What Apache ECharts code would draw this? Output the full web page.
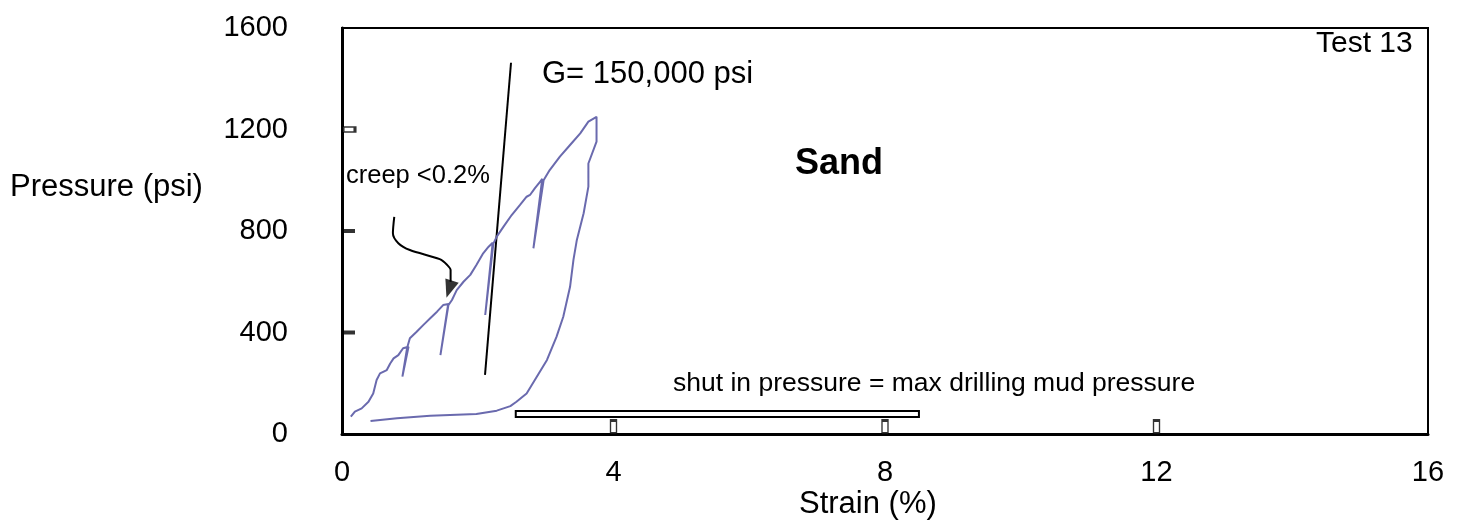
<!DOCTYPE html>
<html>
<head>
<meta charset="utf-8">
<script src="https://cdn.jsdelivr.net/npm/echarts@6/dist/echarts.min.js"></script>
<style>html,body{margin:0;padding:0;background:#fff;}#c{width:1464px;height:529px;}</style>
</head>
<body>
<div id="c"></div>
<script>
// Strain (%) vs Pressure (psi), Test 13 (Sand)
const strainLoop = [0.13,0.19,0.29,0.39,0.46,0.51,0.56,0.66,0.71,0.76,0.83,0.90,0.98,0.89,0.96,1.00,1.10,1.20,1.30,1.40,1.49,1.57,1.45,1.56,1.62,1.69,1.79,1.89,1.98,2.08,2.16,2.22,2.11,2.23,2.28,2.38,2.50,2.62,2.72,2.77,2.84,2.92,2.95,2.82,2.97,3.06,3.21,3.36,3.51,3.63,3.75,3.75,3.63,3.63,3.56,3.46,3.41,3.36,3.26,3.16,3.02,2.87,2.72,2.57,2.48,2.28,1.98,1.30,0.81,0.42];
const pressureLoop = [68,88,101,127,160,213,239,252,278,298,311,338,344,226,340,377,403,430,456,482,508,512,311,505,528,567,600,627,666,712,738,754,469,750,778,817,863,902,935,942,968,995,1005,732,1000,1040,1093,1139,1185,1231,1250,1152,1066,975,870,765,686,580,462,383,292,226,160,127,110,92,79,72,62,51];
const modulusStrain = [2.107, 2.49];
const modulusPressure = [233, 1463];
const arrowStrain = [0.77,0.75,0.83,1.00,1.44,1.55,1.60,1.60];
const arrowPressure = [856,791,752,725,689,666,646,600];
const arrowHead = [1.58, 571];
const shutInBar = {strain: [2.56, 8.50], pressure: [67, 91]};
const xTickLabels = [0,4,8,12,16];
const yTickLabels = [0,400,800,1200,1600];
const xTickMarks = [4,8,12];
const ySolidTicks = [400,800];
const yHollowTicks = [1200];

const FONT = 'Liberation Sans, Arial, sans-serif';
const zip = (a,b) => a.map((v,i)=>[v,b[i]]);

const chart = echarts.init(document.getElementById('c'), null, {renderer:'canvas'});
chart.setOption({
  animation:false,
  backgroundColor:'#fff',
  grid:{left:342, top:28, right:36, bottom:95, show:true, borderColor:'#000', borderWidth:2, backgroundColor:'transparent'},
  xAxis:{
    type:'value', min:0, max:16, interval:4,
    axisLine:{show:true, onZero:false, lineStyle:{color:'#000', width:3}},
    axisTick:{show:false}, splitLine:{show:false},
    axisLabel:{color:'#000', fontSize:29, fontFamily:FONT, margin:24,
      formatter:v => xTickLabels.includes(v) ? String(v) : ''}
  },
  yAxis:{
    type:'value', min:0, max:1600, interval:400,
    axisLine:{show:true, onZero:false, lineStyle:{color:'#000', width:3}},
    axisTick:{show:false}, splitLine:{show:false},
    axisLabel:{color:'#000', fontSize:29, fontFamily:FONT, margin:54,
      formatter:v => yTickLabels.includes(v) ? String(v) : ''}
  },
  graphic:[
    {type:'text', left:10, top:172, style:{text:'Pressure (psi)', fontSize:31, fontFamily:FONT, fill:'#000'}},
    {type:'text', left:799, top:489, style:{text:'Strain (%)', fontSize:31, fontFamily:FONT, fill:'#000'}},
    {type:'text', left:542, top:59, style:{text:'G= 150,000 psi', fontSize:31, fontFamily:FONT, fill:'#000'}},
    {type:'text', left:346, top:163, style:{text:'creep <0.2%', fontSize:25.5, fontFamily:FONT, fill:'#000'}},
    {type:'text', left:795, top:146, style:{text:'Sand', fontSize:36, fontWeight:'bold', fontFamily:FONT, fill:'#000'}},
    {type:'text', left:1316, top:29, style:{text:'Test 13', fontSize:30, fontFamily:FONT, fill:'#000'}},
    {type:'text', left:673, top:370, style:{text:'shut in pressure = max drilling mud pressure', fontSize:26.5, fontFamily:FONT, fill:'#000'}}
  ],
  series:[
    {type:'line', name:'Test 13', data:zip(strainLoop, pressureLoop), showSymbol:false, symbol:'none',
      lineStyle:{color:'#6a6aae', width:2}, z:5,
      markArea:{silent:true, itemStyle:{color:'#fff', borderColor:'#000', borderWidth:2},
        data:[[{coord:[shutInBar.strain[0], shutInBar.pressure[0]]},{coord:[shutInBar.strain[1], shutInBar.pressure[1]]}]]}},
    {type:'line', name:'G', data:zip(modulusStrain, modulusPressure), showSymbol:false, symbol:'none',
      lineStyle:{color:'#000', width:2}, z:4},
    {type:'line', name:'arrow', data:zip(arrowStrain, arrowPressure), showSymbol:false, symbol:'none', smooth:0.3,
      lineStyle:{color:'#000', width:2}, z:4},
    {type:'scatter', name:'arrowhead', data:[arrowHead], symbol:'triangle', symbolSize:[14,18], symbolRotate:162,
      itemStyle:{color:'#000'}, z:6},
    {type:'scatter', name:'xticks', data:xTickMarks.map(v=>[v,0]), symbol:'rect', symbolSize:[6,13], symbolOffset:[0,-7],
      itemStyle:{color:'#fff', borderColor:'#000', borderWidth:2}, z:6},
    {type:'scatter', name:'ysolid', data:ySolidTicks.map(v=>[0,v]), symbol:'rect', symbolSize:[12,4], symbolOffset:[7,0],
      itemStyle:{color:'#000'}, z:6},
    {type:'scatter', name:'yhollow', data:yHollowTicks.map(v=>[0,v]), symbol:'rect', symbolSize:[12,5], symbolOffset:[7,0],
      itemStyle:{color:'#fff', borderColor:'#000', borderWidth:2}, z:6}
  ]
});
</script>
</body>
</html>
